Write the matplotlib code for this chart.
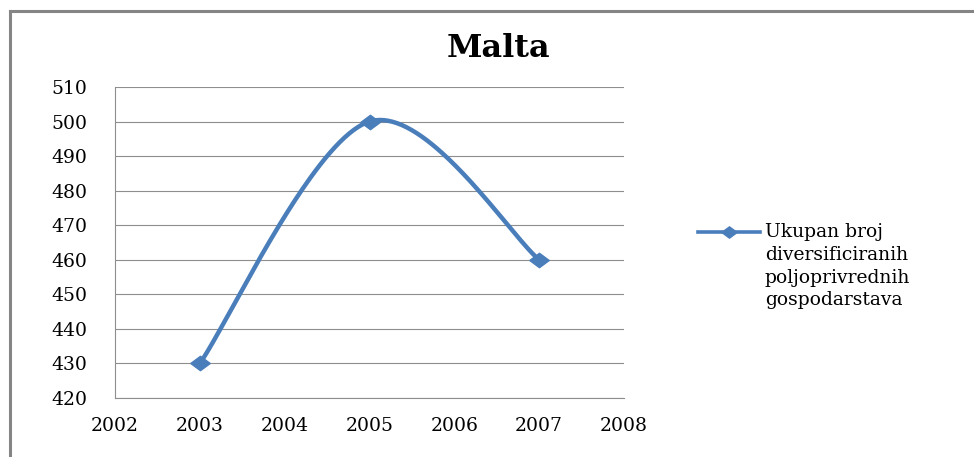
import numpy as np
import matplotlib
matplotlib.use("Agg")
import matplotlib.pyplot as plt
from matplotlib.lines import Line2D
from matplotlib.legend_handler import HandlerLine2D

# --- data -------------------------------------------------------------
years = [2003, 2005, 2007]
farms = [430, 500, 460]
x_ticks = [2002, 2003, 2004, 2005, 2006, 2007, 2008]
y_ticks = [420, 430, 440, 450, 460, 470, 480, 490, 500, 510]
title = "Malta"
series_label = "Ukupan broj\ndiversificiranih\npoljoprivrednih\ngospodarstava"

# --- style ------------------------------------------------------------
BLUE = "#4A7EBB"
GRID = "#8E8E8E"
FRAME = "#858585"
FONT = "DejaVu Serif"
TICK_FS = 13.5

W, H = 974, 457
fig = plt.figure(figsize=(W / 100, H / 100), dpi=100)
fig.patch.set_facecolor("white")


def px(x, y):
    """pixel position (from top-left) -> figure fraction"""
    return x / W, 1 - y / H


left, top = px(115, 87)
right, bottom = px(624, 398)
ax = fig.add_axes([left, bottom, right - left, top - bottom])


def smooth_curve(xs, ys, n=80):
    """Catmull-Rom spline through the points, as cubic Bezier segments."""
    p = np.column_stack([xs, ys]).astype(float)
    ext = np.vstack([p[0], p, p[-1]])
    t = np.linspace(0, 1, n)[:, None]
    parts = []
    for i in range(len(p) - 1):
        p0, p3 = ext[i + 1], ext[i + 2]
        c1 = p0 + (ext[i + 2] - ext[i]) / 6
        c2 = p3 - (ext[i + 3] - ext[i + 1]) / 6
        seg = ((1 - t) ** 3 * p0 + 3 * (1 - t) ** 2 * t * c1
               + 3 * (1 - t) * t ** 2 * c2 + t ** 3 * p3)
        parts.append(seg if i == 0 else seg[1:])
    return np.vstack(parts)


# wide diamond marker
diamond = [(-1.35, 0), (0, 1), (1.35, 0), (0, -1), (-1.35, 0)]

curve = smooth_curve(years, farms)
ax.plot(curve[:, 0], curve[:, 1], color=BLUE, lw=3.2,
        solid_capstyle="round", zorder=3)
ax.plot(years, farms, linestyle="none", marker=diamond, markersize=14,
        color=BLUE, zorder=4)

ax.set_xlim(x_ticks[0], x_ticks[-1])
ax.set_ylim(y_ticks[0], y_ticks[-1])
ax.set_xticks(x_ticks)
ax.set_yticks(y_ticks)
ax.set_xticklabels([str(v) for v in x_ticks], family=FONT, fontsize=TICK_FS)
ax.set_yticklabels([str(v) for v in y_ticks], family=FONT, fontsize=TICK_FS)
ax.tick_params(axis="both", length=0, colors="black")
ax.tick_params(axis="y", pad=20)
ax.tick_params(axis="x", pad=14)

ax.yaxis.grid(True, color=GRID, lw=0.8)
ax.xaxis.grid(False)
ax.set_axisbelow(True)
for side in ("top", "right"):
    ax.spines[side].set_visible(False)
for side in ("left", "bottom"):
    ax.spines[side].set_color(GRID)
    ax.spines[side].set_linewidth(0.8)

# chart title
tx, ty = px(498, 57)
fig.text(tx, ty, title, family=FONT, fontweight="bold", fontsize=23,
         ha="center", va="baseline")


class FirstLineHandler(HandlerLine2D):
    """Places the legend key next to the first line of a multi-line label."""

    def __init__(self, shift, **kw):
        super().__init__(**kw)
        self.shift = shift

    def create_artists(self, legend, orig_handle, xdescent, ydescent,
                       width, height, fontsize, trans):
        artists = super().create_artists(legend, orig_handle, xdescent,
                                         ydescent, width, height, fontsize,
                                         trans)
        for a in artists:
            a.set_ydata(np.asarray(a.get_ydata()) + self.shift)
        return artists


key = Line2D([], [], color=BLUE, lw=2.6, marker=diamond, markersize=11)
lx, ly = px(698, 223)
leg = fig.legend([key], [series_label], loc="upper left",
                 bbox_to_anchor=(lx, ly), frameon=False, borderpad=0,
                 borderaxespad=0, numpoints=1,
                 handlelength=44.6 / TICK_FS, handletextpad=3.6 / TICK_FS,
                 prop={"family": FONT, "size": TICK_FS},
                 handler_map={key: FirstLineHandler(shift=24.8)})
for t in leg.get_texts():
    t.set_linespacing(1.34)

# outer chart frame (top and left edges fall inside the image)
fx0, fy0 = px(9.5, 11)
fig.add_artist(Line2D([fx0, fx0], [-0.05, fy0], transform=fig.transFigure,
                      color=FRAME, lw=2.2))
fig.add_artist(Line2D([fx0, 1.05], [fy0, fy0], transform=fig.transFigure,
                      color=FRAME, lw=2.2))

fig.savefig("out.png", dpi=100, facecolor="white")
